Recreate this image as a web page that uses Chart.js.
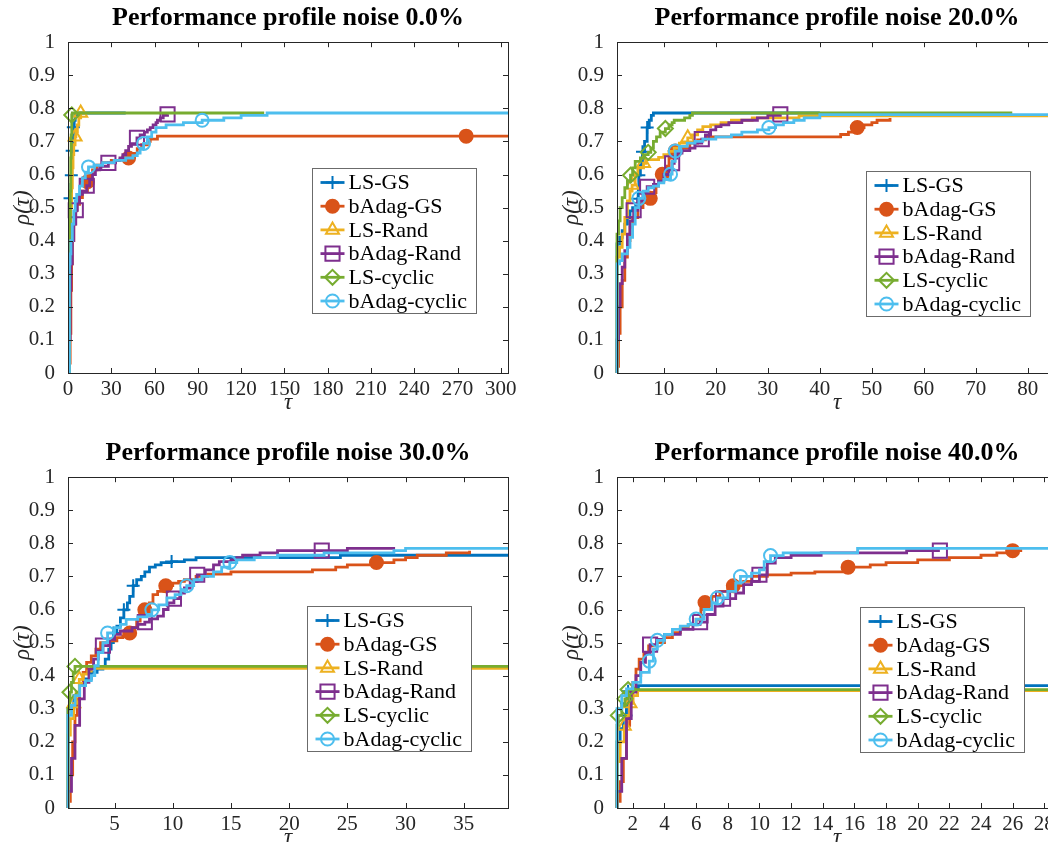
<!DOCTYPE html>
<html>
<head>
<meta charset="utf-8">
<script src="https://cdn.jsdelivr.net/npm/chart.js@4.4.0/dist/chart.umd.min.js"></script>
<style>
  body { margin: 0; background: #fff; overflow: hidden; width: 1048px; height: 842px; position: relative; }
  canvas { position: absolute; }
</style>
</head>
<body>
<canvas id="c0" width="528" height="420" style="left:0;top:0"></canvas>
<canvas id="c1" width="528" height="420" style="left:549px;top:0"></canvas>
<canvas id="c2" width="528" height="420" style="left:0;top:435px"></canvas>
<canvas id="c3" width="528" height="420" style="left:549px;top:435px"></canvas>
<script>
/* 데이터: [tau, rho, marker] — marker 1 = draw a symbol there */
const seriesNames = ['LS-GS', 'bAdag-GS', 'LS-Rand', 'bAdag-Rand', 'LS-cyclic', 'bAdag-cyclic'];
const noiseLevels = ['0.0', '20.0', '30.0', '40.0'];

// noise 0.0%
const xRange0 = [0, 305];
const xTicks0 = [0, 30, 60, 90, 120, 150, 180, 210, 240, 270, 300];
const n0LsGs = [[1,0],[1,0.36],[1.2,0.43],[1.4,0.528,1],[1.7,0.55],[2,0.57],[2.3,0.598,1],[2.6,0.64],[2.9,0.672,1],[3.3,0.7],[3.7,0.743,1],[4.3,0.764],[5,0.779],[6,0.786],[40,0.786]];
const n0BaGs = [[1,0],[1,0.03],[1.5,0.12],[2,0.25],[2.5,0.33],[3,0.4],[4,0.45],[5,0.49],[6,0.51],[8,0.53],[10,0.55],[13.5,0.578,1],[15,0.6],[17,0.614],[20,0.628],[24,0.636],[30,0.643],[36,0.645],[42,0.65,1],[45,0.664],[48,0.678],[51,0.69],[55,0.7],[57,0.707],[62,0.716],[276,0.716,1],[305,0.716]];
const n0LsRand = [[1,0],[1,0.36],[1.5,0.45],[2,0.5],[2.5,0.56],[3,0.62],[3.5,0.66],[4,0.69],[4.9,0.714,1],[5.5,0.73],[6.5,0.75],[7.5,0.771],[8.8,0.786,1],[12,0.786]];
const n0BaRand = [[1,0],[1,0.1],[1.5,0.25],[2,0.33],[3,0.4],[4,0.45],[5.4,0.492,1],[6.5,0.52],[8,0.54],[10,0.55],[13,0.566,1],[15,0.585],[17,0.6],[19,0.614],[22,0.625],[28,0.635,1],[33,0.643],[36,0.65],[38,0.66],[40,0.672],[42,0.685],[44,0.693],[47.8,0.711,1],[50,0.72],[53,0.728],[55,0.735],[57,0.742],[59,0.75],[61,0.757],[62,0.764],[64,0.771],[66,0.779],[69,0.782,1]];
const n0LsCyc = [[1,0],[1,0.35],[1.3,0.45],[1.6,0.55],[1.9,0.65],[2.2,0.72],[2.6,0.78,1],[3,0.786],[136,0.786]];
const n0BaCyc = [[1,0],[1,0.33],[1.5,0.36],[2,0.4],[3,0.45],[4,0.49],[5,0.52],[6,0.54],[8,0.565],[10,0.59],[12,0.607],[14.2,0.623,1],[18,0.628],[24,0.636],[32,0.643],[40,0.65],[45,0.657],[48,0.665],[50,0.68],[52.4,0.694,1],[55,0.714],[58,0.728],[61,0.742],[68,0.75],[80,0.757],[93,0.764,1],[108,0.771],[120,0.779],[138,0.786],[305,0.786]];

// noise 20.0%
const xRange1 = [1, 85.6];
const xTicks1 = [10, 20, 30, 40, 50, 60, 70, 80];
const n1LsGs = [[1,0],[1,0.39],[1.5,0.41],[2,0.43],[2.5,0.45],[3,0.47],[3.5,0.49],[4,0.5],[4.6,0.51],[5,0.527,1],[5.1,0.56],[5.2,0.598,1],[5.5,0.63],[5.9,0.669,1],[6.3,0.7],[6.8,0.742,1],[7.2,0.764],[7.6,0.779],[8,0.786],[40,0.786]];
const n1BaGs = [[1,0],[1,0.02],[1.3,0.12],[1.6,0.2],[2,0.28],[2.5,0.35],[3,0.4],[3.5,0.44],[4,0.47],[5,0.5],[6,0.515],[7.4,0.528,1],[8,0.545],[8.5,0.565],[9,0.585],[9.7,0.601,1],[10.5,0.625],[11,0.65],[12.2,0.671,1],[13.5,0.68],[15,0.695],[16.5,0.705],[18,0.714],[43,0.714],[44,0.721],[45.5,0.728],[46.5,0.735],[47.2,0.742,1],[48.5,0.75],[50,0.757],[51,0.764],[53.5,0.771]];
const n1LsRand = [[1,0],[1,0.35],[1.5,0.38],[2,0.42],[2.5,0.47],[3,0.52],[3.5,0.55],[3.9,0.568,1],[4.5,0.6],[5,0.62],[6.1,0.634,1],[6.5,0.645],[8,0.645],[9,0.652],[10,0.66],[11,0.67],[12,0.68],[13,0.695],[14.6,0.711,1],[15.5,0.72],[16.5,0.735],[17.5,0.745],[19,0.75],[21,0.757],[23,0.764],[27,0.771],[36,0.777],[85.6,0.777]];
const n1BaRand = [[1,0],[1,0.1],[1.3,0.2],[1.6,0.27],[2,0.32],[2.5,0.37],[3,0.42],[3.5,0.46],[4.2,0.492,1],[5,0.52],[6,0.545],[6.8,0.563,1],[8,0.57],[9,0.58],[10,0.6],[11,0.615],[11.6,0.634,1],[12,0.65],[12.5,0.665],[13.5,0.672],[15,0.68],[16,0.695],[17.3,0.707,1],[18,0.72],[19,0.735],[20,0.745],[21,0.75],[22.5,0.757],[25,0.764],[28,0.771],[30,0.779],[32.4,0.782,1]];
const n1LsCyc = [[1,0],[1,0.42],[1.3,0.46],[1.6,0.5],[2,0.53],[2.5,0.56],[3,0.58],[3.6,0.598,1],[4,0.62],[4.5,0.64],[5.5,0.65],[6.2,0.66],[7,0.667,1],[7.5,0.68],[8,0.7],[8.6,0.714],[9.3,0.728],[10.3,0.739,1],[11,0.75],[11.6,0.757],[12,0.764],[14,0.771],[15,0.779],[15.5,0.786],[77,0.786]];
const n1BaCyc = [[1,0],[1,0.33],[1.5,0.34],[2,0.36],[3,0.38],[3.5,0.41],[4,0.45],[4.5,0.5],[5.2,0.528,1],[6,0.55],[7,0.56],[8,0.565],[9,0.575],[10,0.585],[11.3,0.601,1],[11.6,0.64],[12.2,0.671,1],[13,0.685],[14.5,0.695],[16,0.7],[17.5,0.707],[20,0.714],[23,0.72],[25,0.728],[28,0.735],[30.2,0.742,1],[31.5,0.75],[33,0.757],[35,0.764],[37,0.771],[40,0.781],[85.6,0.781]];

// noise 30.0%
const xRange2 = [1, 38.8];
const xTicks2 = [5, 10, 15, 20, 25, 30, 35];
const n2LsGs = [[1,0],[1,0.3],[1.5,0.34],[2,0.37],[2.5,0.39],[3,0.41],[3.5,0.42],[4,0.428],[4.2,0.45],[4.5,0.48],[4.7,0.5],[4.9,0.529,1],[5.2,0.55],[5.5,0.575],[5.8,0.599,1],[6.1,0.62],[6.3,0.64],[6.6,0.672,1],[6.9,0.69],[7.3,0.7],[7.6,0.714],[8,0.728],[8.5,0.735],[9,0.742],[9.9,0.745,1],[11,0.75],[12,0.757],[24.4,0.764],[38.8,0.764]];
const n2BaGs = [[1,0],[1,0.02],[1.2,0.1],[1.4,0.2],[1.6,0.28],[1.8,0.33],[2,0.37],[2.3,0.41],[2.6,0.44],[3,0.46],[3.4,0.48],[3.8,0.5],[4.5,0.505],[5.2,0.515],[5.7,0.52],[6.3,0.529,1],[6.6,0.545],[6.9,0.565],[7.2,0.585],[7.6,0.599,1],[8,0.62],[8.3,0.645],[8.7,0.655],[9.4,0.672,1],[10,0.68],[10.5,0.685],[11,0.69],[12,0.7],[13,0.707],[15,0.714],[22,0.72],[24,0.728],[25,0.735],[27.5,0.742,1],[29,0.75],[30,0.757],[31,0.764],[33.5,0.771],[35.5,0.778]];
const n2LsRand = [[1,0],[1,0.22],[1.2,0.27],[1.5,0.316,1],[1.7,0.35],[1.97,0.389,1],[2.3,0.405],[2.7,0.414],[3,0.422],[38.8,0.422]];
const n2BaRand = [[1,0],[1,0.05],[1.3,0.15],[1.6,0.25],[2,0.33],[2.4,0.38],[2.8,0.42],[3.2,0.45],[3.6,0.475],[4,0.491,1],[4.5,0.51],[5,0.525],[5.5,0.535],[6.5,0.545],[7,0.555],[7.6,0.562,1],[8,0.572],[8.7,0.58],[9.2,0.6],[9.6,0.62],[10.1,0.633,1],[10.6,0.65],[11,0.665],[11.5,0.685],[12.1,0.705,1],[12.8,0.72],[13.5,0.735],[14,0.745],[15,0.75],[15.5,0.757],[16,0.764],[17.5,0.771],[19,0.778],[22.8,0.778,1],[25,0.785],[29.1,0.785]];
const n2LsCyc = [[1,0],[1,0.3],[1.17,0.35,1],[1.3,0.38],[1.45,0.41],[1.6,0.428,1],[38.8,0.428]];
const n2BaCyc = [[1,0],[1,0.28],[1.3,0.31],[1.6,0.34],[2,0.37],[2.5,0.385],[3,0.4],[3.3,0.43],[3.6,0.47],[4,0.5],[4.4,0.529,1],[5,0.545],[5.5,0.555],[6,0.57],[7,0.578],[7.8,0.585],[8.2,0.599,1],[8.8,0.614],[9.5,0.635],[10.2,0.645],[10.7,0.66],[11.2,0.672,1],[11.8,0.69],[12.5,0.7],[13.5,0.714],[14.2,0.728],[14.9,0.742,1],[15.5,0.75],[17,0.757],[19,0.764],[23,0.771],[29,0.778],[30,0.785],[38.8,0.785]];

// noise 40.0%
const xRange3 = [1, 28.8];
const xTicks3 = [2, 4, 6, 8, 10, 12, 14, 16, 18, 20, 22, 24, 26, 28];
const n3LsGs = [[1,0],[1,0.2],[1.2,0.24],[1.4,0.27],[1.57,0.28,1],[1.6,0.317,1],[1.7,0.353,1],[2,0.362],[2.35,0.37],[28.8,0.37]];
const n3BaGs = [[1,0],[1,0.02],[1.2,0.08],[1.4,0.15],[1.6,0.25],[1.8,0.32],[2,0.38],[2.2,0.42],[2.4,0.45],[2.7,0.47],[3,0.49],[3.5,0.5],[4,0.515],[4.5,0.53],[5,0.545],[5.5,0.555],[6,0.57],[6.3,0.6],[6.56,0.621,1],[7,0.64],[7.5,0.655],[8,0.665],[8.35,0.672,1],[9,0.685],[9.5,0.7],[10.5,0.705],[12,0.71],[13.5,0.714],[15.6,0.728,1],[17,0.735],[18,0.742],[20,0.75],[22,0.757],[24,0.764],[25,0.771],[26,0.778,1],[26.6,0.778]];
const n3LsRand = [[1,0],[1,0.14],[1.2,0.2],[1.46,0.248,1],[1.6,0.28],[1.82,0.316,1],[2,0.34],[2.3,0.355],[28.8,0.355]];
const n3BaRand = [[1,0],[1,0.05],[1.3,0.15],[1.6,0.27],[1.9,0.35],[2.2,0.4],[2.5,0.44],[2.8,0.47],[3.09,0.494,1],[3.5,0.51],[4,0.525],[5,0.54],[5.8,0.555],[6.25,0.562,1],[6.7,0.585],[7.2,0.61],[7.7,0.633,1],[8.5,0.65],[9,0.675],[9.5,0.685],[10,0.705,1],[10.5,0.74],[11,0.757],[12,0.764],[13.9,0.771],[19.3,0.778],[21.4,0.778,1]];
const n3LsCyc = [[1,0],[1,0.25],[1.08,0.28,1],[1.3,0.31],[1.5,0.33,1],[1.7,0.358,1],[28.8,0.358]];
const n3BaCyc = [[1,0],[1,0.3],[1.3,0.34],[1.6,0.36],[2,0.38],[2.5,0.41],[3.04,0.444,1],[3.3,0.48],[3.55,0.507,1],[4,0.525],[4.5,0.54],[5,0.55],[5.5,0.555],[6,0.571,1],[6.5,0.6],[7,0.62],[7.34,0.635,1],[8,0.655],[8.5,0.68],[8.8,0.7,1],[9.5,0.71],[10,0.72],[10.3,0.745],[10.7,0.763,1],[11.5,0.771],[16.2,0.785],[28.8,0.785]];

const yTicks = [0, 0.1, 0.2, 0.3, 0.4, 0.5, 0.6, 0.7, 0.8, 0.9, 1];

/* 스타일 (MATLAB 기본 색) */
const seriesColors = ['#0072BD', '#D95319', '#EDB120', '#7E2F8E', '#77AC30', '#4DBEEE'];
const seriesPoints = ['cross', 'circle', 'triangle', 'rect', 'rectRot', 'circle'];
const seriesRadius = [6.5, 6.5, 7.5, 10, 7.5, 6.5];
const seriesFilled = [false, true, false, false, false, false];

const FONT = '"Liberation Serif", "Times New Roman", serif';
const AXIS_COLOR = '#262626';

/* 축 박스, 안쪽 눈금, 범례 */
const matlabAxes = {
  id: 'matlabAxes',
  afterDraw(chart, args, opts) {
    const { ctx, chartArea: a, scales: { x, y } } = chart;
    ctx.save();
    ctx.strokeStyle = AXIS_COLOR;
    ctx.lineWidth = 1;
    ctx.strokeRect(Math.round(a.left) + 0.5, Math.round(a.top) + 0.5, Math.round(a.right - a.left), Math.round(a.bottom - a.top));
    ctx.beginPath();
    x.ticks.forEach((t) => {
      const px = Math.round(x.getPixelForValue(t.value)) + 0.5;
      ctx.moveTo(px, a.bottom); ctx.lineTo(px, a.bottom - 5);
      ctx.moveTo(px, a.top); ctx.lineTo(px, a.top + 5);
    });
    y.ticks.forEach((t) => {
      const py = Math.round(y.getPixelForValue(t.value)) + 0.5;
      ctx.moveTo(a.left, py); ctx.lineTo(a.left + 5, py);
      ctx.moveTo(a.right, py); ctx.lineTo(a.right - 5, py);
    });
    ctx.stroke();

    // legend
    const lx = Math.round(a.left + opts.dx) + 0.5;
    const ly = Math.round(a.top + opts.dy) + 0.5;
    ctx.fillStyle = '#fff';
    ctx.fillRect(lx, ly, 164, 145);
    ctx.strokeStyle = '#6b6b6b';
    ctx.strokeRect(lx, ly, 164, 145);
    chart.data.datasets.forEach((ds, i) => {
      const cy = ly + 14 + i * 23.7;
      ctx.strokeStyle = ds.borderColor;
      ctx.lineWidth = 2.8;
      ctx.beginPath();
      ctx.moveTo(lx + 8, cy);
      ctx.lineTo(lx + 32, cy);
      ctx.stroke();
      ctx.fillStyle = ds.pointBackgroundColor;
      ctx.lineWidth = 2;
      Chart.helpers.drawPoint(ctx, { pointStyle: ds.pointStyle, radius: seriesRadius[i], borderWidth: 2, rotation: 0 }, lx + 20, cy);
      ctx.fillStyle = '#000';
      ctx.font = '22px ' + FONT;
      ctx.textBaseline = 'middle';
      ctx.textAlign = 'left';
      ctx.fillText(ds.label, lx + 36, cy + 1);
    });
    ctx.restore();
  }
};

function makeChart(canvasId, noise, series, xRange, xTicks, legendPos) {
  const datasets = series.map((pts, i) => ({
    label: seriesNames[i],
    data: pts,
    borderColor: seriesColors[i],
    borderWidth: 2.8,
    stepped: true,
    fill: false,
    pointStyle: seriesPoints[i],
    pointRadius: (c) => (c.raw && c.raw[2] ? seriesRadius[i] : 0),
    pointHoverRadius: 0,
    pointBorderColor: seriesColors[i],
    pointBackgroundColor: seriesFilled[i] ? seriesColors[i] : 'rgba(0,0,0,0)',
    pointBorderWidth: 2,
    order: 5 - i,
    clip: 12
  }));

  new Chart(document.getElementById(canvasId), {
    type: 'line',
    data: { datasets },
    options: {
      responsive: false,
      animation: false,
      devicePixelRatio: 1,
      layout: { padding: { left: 0, right: 20, top: 0, bottom: 0 } },
      plugins: {
        legend: { display: false },
        tooltip: { enabled: false },
        title: {
          display: true,
          fullSize: false,
          text: `Performance profile noise ${noise}%`,
          color: '#000',
          font: { family: FONT, size: 26, weight: 'bold', lineHeight: 1.2 },
          padding: { top: 3, bottom: 8 }
        },
        matlabAxes: legendPos
      },
      scales: {
        x: {
          type: 'linear',
          min: xRange[0],
          max: xRange[1],
          afterBuildTicks: (s) => { s.ticks = xTicks.map((v) => ({ value: v })); },
          afterFit: (s) => { s.height = 47; },
          grid: { display: false },
          border: { display: false },
          ticks: { color: AXIS_COLOR, font: { family: FONT, size: 21 }, padding: -4, maxRotation: 0, autoSkip: false },
          title: { display: true, text: 'τ', color: AXIS_COLOR, font: { family: FONT, size: 23, style: 'italic', lineHeight: 1.2 }, padding: { top: 0, bottom: 3 } }
        },
        y: {
          min: 0,
          max: 1,
          afterBuildTicks: (s) => { s.ticks = yTicks.map((v) => ({ value: v })); },
          afterFit: (s) => { s.width = 68; },
          grid: { display: false },
          border: { display: false },
          ticks: { color: AXIS_COLOR, font: { family: FONT, size: 21 }, padding: 5, callback: (v) => String(v) },
          title: { display: true, text: 'ρ(τ)', color: AXIS_COLOR, font: { family: FONT, size: 23, style: 'italic', lineHeight: 1.2 }, padding: { top: 9, bottom: 0 } }
        }
      }
    },
    plugins: [matlabAxes]
  });
}

/* 그리기 */
makeChart('c0', noiseLevels[0], [n0LsGs, n0BaGs, n0LsRand, n0BaRand, n0LsCyc, n0BaCyc], xRange0, xTicks0, { dx: 244, dy: 126 });
makeChart('c1', noiseLevels[1], [n1LsGs, n1BaGs, n1LsRand, n1BaRand, n1LsCyc, n1BaCyc], xRange1, xTicks1, { dx: 249, dy: 129 });
makeChart('c2', noiseLevels[2], [n2LsGs, n2BaGs, n2LsRand, n2BaRand, n2LsCyc, n2BaCyc], xRange2, xTicks2, { dx: 239, dy: 129 });
makeChart('c3', noiseLevels[3], [n3LsGs, n3BaGs, n3LsRand, n3BaRand, n3LsCyc, n3BaCyc], xRange3, xTicks3, { dx: 243, dy: 130 });
</script>
</body>
</html>
